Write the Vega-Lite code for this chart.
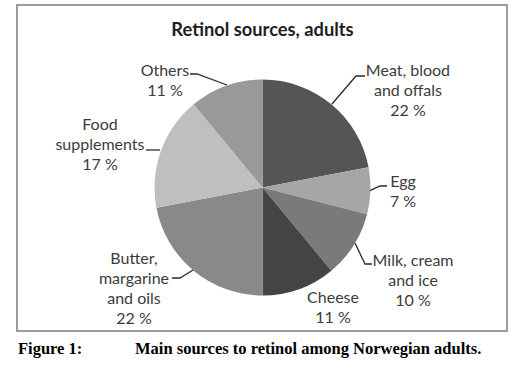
{
  "$schema": "https://vega.github.io/schema/vega-lite/v6.json",
  "width": 525,
  "height": 369,
  "autosize": {"type": "none"},
  "padding": {"left": 0, "right": 0, "top": 3, "bottom": 0},
  "background": "white",
  "config": {"view": {"stroke": null}},
  "datasets": {
    "slices": [
      {"order": 1, "source": "Meat, blood and offals", "pct": 22, "label": "Meat, blood\nand offals\n22 %", "lx": 1.347, "ly": 1.0787},
      {"order": 2, "source": "Egg", "pct": 7, "label": "Egg\n7 %", "lx": 1.301, "ly": 0.0509},
      {"order": 3, "source": "Milk, cream and ice", "pct": 10, "label": "Milk, cream\nand ice\n10 %", "lx": 1.394, "ly": -0.6806},
      {"order": 4, "source": "Cheese", "pct": 11, "label": "Cheese\n11 %", "lx": 0.653, "ly": -1.0231},
      {"order": 5, "source": "Butter, margarine and oils", "pct": 22, "label": "Butter,\nmargarine\nand oils\n22 %", "lx": -1.19, "ly": -0.662},
      {"order": 6, "source": "Food supplements", "pct": 17, "label": "Food\nsupplements\n17 %", "lx": -1.505, "ly": 0.5787},
      {"order": 7, "source": "Others", "pct": 11, "label": "Others\n11 %", "lx": -0.903, "ly": 1.0787}
    ],
    "leaders": [
      {"source": "Meat, blood and offals", "seq": 1, "x": 0.6435, "y": 0.7731},
      {"source": "Meat, blood and offals", "seq": 2, "x": 0.8657, "y": 1.0324},
      {"source": "Meat, blood and offals", "seq": 3, "x": 0.9491, "y": 1.0324},
      {"source": "Egg", "seq": 1, "x": 0.9954, "y": -0.0296},
      {"source": "Egg", "seq": 2, "x": 1.088, "y": 0.0139},
      {"source": "Egg", "seq": 3, "x": 1.1528, "y": 0.0139},
      {"source": "Milk, cream and ice", "seq": 1, "x": 0.8565, "y": -0.5139},
      {"source": "Milk, cream and ice", "seq": 2, "x": 0.9491, "y": -0.7083},
      {"source": "Milk, cream and ice", "seq": 3, "x": 1.0139, "y": -0.7083},
      {"source": "Butter, margarine and oils", "seq": 1, "x": -0.838, "y": -0.838},
      {"source": "Butter, margarine and oils", "seq": 2, "x": -0.7639, "y": -0.838},
      {"source": "Butter, margarine and oils", "seq": 3, "x": -0.6435, "y": -0.7639},
      {"source": "Food supplements", "seq": 1, "x": -1.0787, "y": 0.3472},
      {"source": "Food supplements", "seq": 2, "x": -0.9491, "y": 0.3472},
      {"source": "Others", "seq": 1, "x": -0.6713, "y": 1.0509},
      {"source": "Others", "seq": 2, "x": -0.6065, "y": 1.0509},
      {"source": "Others", "seq": 3, "x": -0.3287, "y": 0.9491}
    ],
    "frame": [
      {"x": -2.2731, "x2": 2.2639, "y": 1.6898, "y2": -1.3287}
    ],
    "heading": [
      {"text": "Retinol sources, adults", "x": 0, "y": 1.403}
    ],
    "caption": [
      {"text": "Figure 1:", "x": -2.2639, "y": -1.5417},
      {"text": "Main sources to retinol among Norwegian adults.", "x": -1.1806, "y": -1.5417}
    ]
  },
  "layer": [
    {
      "data": {"name": "frame"},
      "mark": {"type": "rect", "fill": null, "stroke": "#9c9c9c", "strokeWidth": 2},
      "encoding": {
        "x": {"field": "x", "type": "quantitative", "scale": {"domain": [-2.4306, 2.4306], "nice": false, "zero": false}, "axis": null},
        "x2": {"field": "x2"},
        "y": {"field": "y", "type": "quantitative", "scale": {"domain": [-1.7083, 1.7083], "nice": false, "zero": false}, "axis": null},
        "y2": {"field": "y2"}
      }
    },
    {
      "data": {"name": "slices"},
      "mark": {"type": "arc", "radius": 108},
      "encoding": {
        "theta": {"field": "pct", "type": "quantitative", "stack": true},
        "order": {"field": "order", "type": "quantitative"},
        "color": {
          "field": "source",
          "type": "nominal",
          "scale": {
            "domain": ["Meat, blood and offals", "Egg", "Milk, cream and ice", "Cheese", "Butter, margarine and oils", "Food supplements", "Others"],
            "range": ["#555555", "#a6a6a6", "#7a7a7a", "#444444", "#898989", "#bfbfbf", "#999999"]
          },
          "legend": null
        }
      }
    },
    {
      "data": {"name": "leaders"},
      "mark": {"type": "line", "color": "#2a2a2a", "strokeWidth": 1.3},
      "encoding": {
        "x": {"field": "x", "type": "quantitative", "scale": {"domain": [-2.4306, 2.4306], "nice": false, "zero": false}, "axis": null},
        "y": {"field": "y", "type": "quantitative", "scale": {"domain": [-1.7083, 1.7083], "nice": false, "zero": false}, "axis": null},
        "detail": {"field": "source"},
        "order": {"field": "seq", "type": "quantitative"}
      }
    },
    {
      "data": {"name": "slices"},
      "mark": {"type": "text", "lineBreak": "\n", "font": "Lato", "fontSize": 16, "lineHeight": 20, "align": "center", "baseline": "middle", "fill": "#3c3c3c"},
      "encoding": {
        "x": {"field": "lx", "type": "quantitative", "scale": {"domain": [-2.4306, 2.4306], "nice": false, "zero": false}, "axis": null},
        "y": {"field": "ly", "type": "quantitative", "scale": {"domain": [-1.7083, 1.7083], "nice": false, "zero": false}, "axis": null},
        "text": {"field": "label"}
      }
    },
    {
      "data": {"name": "heading"},
      "mark": {"type": "text", "font": "Lato", "fontSize": 18.3, "fontWeight": "bold", "align": "center", "baseline": "alphabetic", "fill": "#1e1e1e"},
      "encoding": {
        "x": {"field": "x", "type": "quantitative", "scale": {"domain": [-2.4306, 2.4306], "nice": false, "zero": false}, "axis": null},
        "y": {"field": "y", "type": "quantitative", "scale": {"domain": [-1.7083, 1.7083], "nice": false, "zero": false}, "axis": null},
        "text": {"field": "text"}
      }
    },
    {
      "data": {"name": "caption"},
      "mark": {"type": "text", "font": "Liberation Serif", "fontSize": 16.5, "fontWeight": "bold", "align": "left", "baseline": "alphabetic", "fill": "#000000"},
      "encoding": {
        "x": {"field": "x", "type": "quantitative", "scale": {"domain": [-2.4306, 2.4306], "nice": false, "zero": false}, "axis": null},
        "y": {"field": "y", "type": "quantitative", "scale": {"domain": [-1.7083, 1.7083], "nice": false, "zero": false}, "axis": null},
        "text": {"field": "text"}
      }
    }
  ]
}
